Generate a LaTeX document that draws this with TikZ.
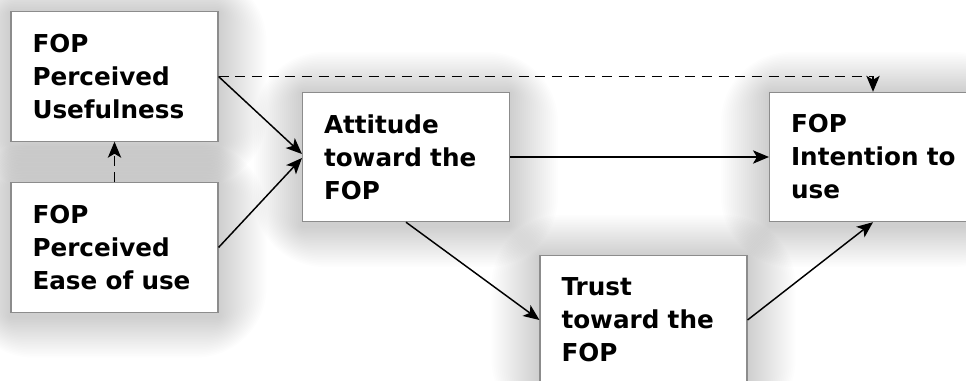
\documentclass[tikz,border=0pt]{standalone}
\usepackage{fontspec}
\setmainfont{DejaVu Sans}
\usetikzlibrary{arrows.meta,calc}
\newcommand{\boxglow}[1]{%
  \foreach \r in {2,4,...,48}{%
    \fill[black, opacity=0.0085, rounded corners=\r*1.1pt]
      ($(#1.south west)+(-\r,\r*0.85+4)$) rectangle ($(#1.north east)+(\r,-\r*0.85+1)$);
  }}
\begin{document}
\begin{tikzpicture}[x=0.75pt,y=-0.75pt,
  box/.style={draw=black!45, line width=0.8pt, fill=white, rectangle,
    minimum width=155.25pt, minimum height=97pt, inner xsep=16pt, inner ysep=0pt,
    text width=123pt, align=left,
    font=\bfseries\fontsize{18.5pt}{24.75pt}\selectfont},
  tip/.style={-{Stealth[length=12pt,width=10pt,inset=3pt]}},
  arr/.style={line width=1.1pt, tip},
  dsh/.style={line width=1.1pt, dash pattern=on 7.5pt off 5pt}]
\useasboundingbox (0,0) rectangle (966,381);
\clip (0,0) rectangle (966,381);
\fill[white] (0,0) rectangle (966,381);
\coordinate (cpu) at (114.5,76.5);
\coordinate (cpeou) at (114.5,247.5);
\coordinate (catt) at (406,157);
\coordinate (ctr) at (643.5,320);
\coordinate (cint) at (873,157);
% soft shadows (invisible geometry nodes)
\node[box, draw=none, fill=none, text opacity=0] (g1) at (cpu) {\phantom{A}};
\node[box, draw=none, fill=none, text opacity=0] (g2) at (cpeou) {\phantom{A}};
\node[box, draw=none, fill=none, text opacity=0] (g3) at (catt) {\phantom{A}};
\node[box, draw=none, fill=none, text opacity=0] (g4) at (ctr) {\phantom{A}};
\node[box, draw=none, fill=none, text opacity=0] (g5) at (cint) {\phantom{A}};
\boxglow{g1}\boxglow{g2}\boxglow{g3}\boxglow{g4}\boxglow{g5}
% boxes
\node[box] (pu) at (cpu) {FOP\\Perceived\\Usefulness};
\node[box] (peou) at (cpeou) {FOP\\Perceived\\Ease of use};
\node[box] (att) at (catt) {Attitude\\toward the\\FOP};
\node[box] (tr) at (ctr) {Trust\\toward the\\FOP};
\node[box] (int) at (cint) {FOP\\\mbox{Intention to}\\use};
% connectors
\coordinate (dturn) at (pu.east -| int.north);
\draw[dsh] (pu.east) -- (dturn);
\draw[line width=1.1pt, tip] (dturn) -- (int.north);
\draw[dsh, tip] (peou.north) -- (pu.south);
\draw[arr] (pu.east) -- ($(att.west)+(0,-3)$);
\draw[arr] (peou.east) -- ($(att.west)+(0,1)$);
\draw[arr] (att.east) -- (int.west);
\draw[arr] (att.south) -- (tr.west);
\draw[arr] (tr.east) -- (int.south);
\end{tikzpicture}
\end{document}
